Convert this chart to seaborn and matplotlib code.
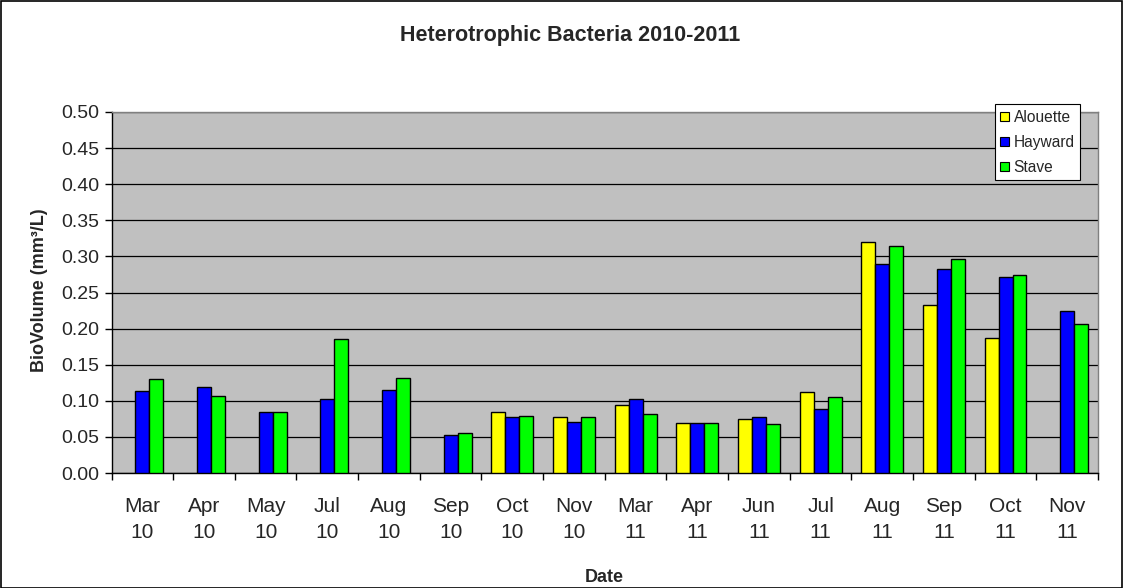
import numpy as np
import pandas as pd
import matplotlib
matplotlib.use("Agg")
import matplotlib.pyplot as plt
from matplotlib.patches import Patch, Rectangle
import seaborn as sns

# Sampling dates (month / two-digit year)
dates = ["Mar\n10", "Apr\n10", "May\n10", "Jul\n10", "Aug\n10", "Sep\n10",
         "Oct\n10", "Nov\n10", "Mar\n11", "Apr\n11", "Jun\n11", "Jul\n11",
         "Aug\n11", "Sep\n11", "Oct\n11", "Nov\n11"]

# Heterotrophic bacteria biovolume (mm^3/L) per reservoir
alouette = [np.nan, np.nan, np.nan, np.nan, np.nan, np.nan, 0.085, 0.077,
            0.094, 0.069, 0.075, 0.112, 0.320, 0.233, 0.187, np.nan]
hayward = [0.113, 0.119, 0.085, 0.102, 0.115, 0.053, 0.078, 0.070,
           0.103, 0.069, 0.077, 0.088, 0.289, 0.283, 0.271, 0.224]
stave = [0.130, 0.107, 0.085, 0.185, 0.132, 0.056, 0.079, 0.077,
         0.082, 0.069, 0.068, 0.105, 0.315, 0.296, 0.274, 0.207]

sites = ["Alouette", "Hayward", "Stave"]
colors = ["#FFFF00", "#0000FF", "#00FF00"]

df = pd.DataFrame({
    "Date": dates * 3,
    "Site": [s for s in sites for _ in dates],
    "BioVolume": alouette + hayward + stave,
}).dropna()

sns.set_style("white")
plt.rcParams["font.family"] = ["Liberation Sans", "DejaVu Sans"]

fig = plt.figure(figsize=(11.24, 5.88), dpi=100)
ax = fig.add_axes([111.5 / 1124, 1 - 473 / 588, 986.5 / 1124, 361 / 588])
ax.set_facecolor("#C0C0C0")

sns.barplot(data=df, x="Date", y="BioVolume", hue="Site",
            order=dates, hue_order=sites, palette=colors,
            width=0.68, saturation=1, errorbar=None,
            edgecolor="black", linewidth=1, legend=False, ax=ax, zorder=3)

# y axis
ax.set_ylim(0, 0.5)
ax.set_yticks(np.arange(0, 0.501, 0.05))
ax.set_yticklabels([f"{v:.2f}" for v in np.arange(0, 0.501, 0.05)], fontsize=14)
ax.yaxis.grid(True, color="black", linewidth=0.9, zorder=1)
ax.set_axisbelow(True)

# x axis: ticks on category boundaries, labels centred on categories
n = len(dates)
ax.set_xlim(-0.5, n - 0.5)
ax.set_xticks(np.arange(-0.5, n, 1.0))
ax.set_xticklabels([])
ax.set_xticks(np.arange(n), minor=True)
ax.set_xticklabels(dates, minor=True, fontsize=15, linespacing=1.5)
ax.tick_params(axis="x", which="minor", length=0, pad=17)
ax.tick_params(axis="both", which="major", direction="out", length=5,
               width=1, color="black", left=True, bottom=True)
ax.tick_params(axis="y", pad=4)

ax.set_xlabel("")
ax.set_ylabel("")

for side in ("left", "bottom"):
    ax.spines[side].set_color("black")
    ax.spines[side].set_linewidth(1)
for side in ("top", "right"):
    ax.spines[side].set_color("#808080")
    ax.spines[side].set_linewidth(1)

# Legend
handles = [Patch(facecolor=c, edgecolor="black", linewidth=0.8) for c in colors]
leg = ax.legend(handles, sites, loc="upper right",
                bbox_to_anchor=(0.9818, 1.0213), borderaxespad=0,
                fontsize=11.2, frameon=True, fancybox=False, shadow=False,
                handlelength=0.55, handleheight=0.55, handletextpad=0.3,
                labelspacing=0.65, borderpad=0.35)
leg.get_frame().set_edgecolor("black")
leg.get_frame().set_linewidth(0.8)
leg.get_frame().set_facecolor("white")
leg.get_frame().set_alpha(1)

# Titles and axis labels
fig.text(570 / 1124, 1 - 41 / 588, "Heterotrophic Bacteria 2010-2011",
         ha="center", va="baseline", fontsize=15.5, fontweight="bold")
fig.text(40 / 1124, 1 - 290 / 588, "BioVolume (mm³/L)", rotation=90,
         ha="center", va="center", fontsize=13, fontweight="bold")
fig.text(604.5 / 1124, 1 - 581.5 / 588, "Date",
         ha="center", va="baseline", fontsize=13, fontweight="bold")

# Outer chart border
fig.patches.append(Rectangle((0.0005, 0.0005), 0.998, 0.998, transform=fig.transFigure,
                             fill=False, edgecolor="black", linewidth=1.2))

fig.savefig("out.png", dpi=100)
